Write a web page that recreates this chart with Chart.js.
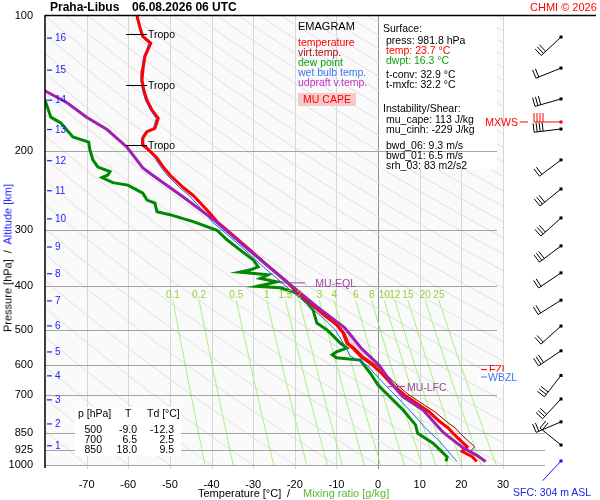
<!DOCTYPE html>
<html>
<head>
<meta charset="utf-8">
<script src="https://cdn.jsdelivr.net/npm/chart.js"></script>
<style>
body { margin: 0; background: #fff; }
#wrap { position: relative; width: 600px; height: 500px; font-family: "Liberation Sans", Arial, sans-serif; }
#wrap canvas { position: absolute; left: 0; top: 0; }
.t { position: absolute; white-space: pre; line-height: 1; font-size: 10.5px; color: #000; }
.r { text-align: right; }
</style>
</head>
<body>
<div id="wrap">
<canvas id="emagram" width="600" height="500"></canvas>

<div class="t" style="left:50px;top:1px;font-size:12px;font-weight:bold">Praha-Libus</div>
<div class="t" style="left:132px;top:1px;font-size:12px;font-weight:bold">06.08.2026 06 UTC</div>
<div class="t" style="left:530px;top:1.5px;font-size:11px;color:#ff0000">CHMI © 2026</div>

<div class="t" style="left:298px;top:20.5px;font-size:11px">EMAGRAM</div>
<div class="t" style="left:298px;top:36.75px;color:#ff0000">temperature</div>
<div class="t" style="left:298px;top:46.75px;color:#a01010">virt.temp.</div>
<div class="t" style="left:298px;top:56.75px;color:#10a010">dew point</div>
<div class="t" style="left:298px;top:66.75px;color:#3a78f0">wet bulb temp.</div>
<div class="t" style="left:298px;top:76.75px;color:#c030c0">udpraft v.temp.</div>
<div class="t" style="left:298px;top:93px;width:58px;height:13px;line-height:13px;text-align:center;background:#f7c8c8;color:#ff0000">MU CAPE</div>

<div class="t" style="left:383px;top:22.75px">Surface:</div>
<div class="t" style="left:386px;top:34.75px">press: 981.8 hPa</div>
<div class="t" style="left:386px;top:44.75px;color:#ff0000">temp: 23.7 °C</div>
<div class="t" style="left:386px;top:54.75px;color:#10a010">dwpt: 16.3 °C</div>
<div class="t" style="left:386px;top:68.75px">t-conv: 32.9 °C</div>
<div class="t" style="left:386px;top:79px">t-mxfc: 32.2 °C</div>
<div class="t" style="left:383px;top:103px">Instability/Shear:</div>
<div class="t" style="left:386px;top:114px">mu_cape: 113 J/kg</div>
<div class="t" style="left:386px;top:124px">mu_cinh: -229 J/kg</div>
<div class="t" style="left:386px;top:139.75px">bwd_06: 9.3 m/s</div>
<div class="t" style="left:386px;top:149.75px">bwd_01: 6.5 m/s</div>
<div class="t" style="left:386px;top:159.75px">srh_03: 83 m2/s2</div>

<div class="t" style="left:78px;top:407.75px">p [hPa]</div>
<div class="t" style="left:125px;top:407.75px">T</div>
<div class="t" style="left:147px;top:407.75px">Td [°C]</div>
<div class="t r" style="left:72px;top:423.75px;width:30px">500</div>
<div class="t r" style="left:107px;top:423.75px;width:30px">-9.0</div>
<div class="t r" style="left:140px;top:423.75px;width:34px">-12.3</div>
<div class="t r" style="left:72px;top:433.75px;width:30px">700</div>
<div class="t r" style="left:107px;top:433.75px;width:30px">6.5</div>
<div class="t r" style="left:140px;top:433.75px;width:34px">2.5</div>
<div class="t r" style="left:72px;top:443.75px;width:30px">850</div>
<div class="t r" style="left:107px;top:443.75px;width:30px">18.0</div>
<div class="t r" style="left:140px;top:443.75px;width:34px">9.5</div>

<div class="t" style="left:198px;top:487.5px;font-size:11px">Temperature [°C]</div>
<div class="t" style="left:287px;top:487.5px;font-size:11px">/</div>
<div class="t" style="left:303px;top:487.5px;font-size:11px;color:#5cb82e">Mixing ratio [g/kg]</div>
<div class="t" style="left:8px;top:258px;font-size:11px;transform:translate(-50%,-50%) rotate(-90deg)">Pressure [hPa]  /  <span style="color:#2020ff">Altitude [km]</span></div>
<div class="t" style="left:513px;top:486.75px;color:#2222dd">SFC: 304 m ASL</div>
</div>

<script>
//..axis ticks and reference lines
const pressureTicks = [100, 200, 300, 400, 500, 600, 700, 850, 925, 1000];
const isobars = [200, 300, 400, 500, 600, 700, 850, 925, 1000];
const longIsobars = [850, 925, 1000];
const mixRatios = [0.1, 0.2, 0.5, 1, 1.5, 2, 3, 4, 6, 8, 10, 12, 15, 20, 25];
const altKm = [1, 2, 3, 4, 5, 6, 7, 8, 9, 10, 11, 12, 13, 14, 15, 16];
const altP = [906, 810, 716, 633, 560, 490, 431, 375, 327, 283, 245, 210, 179, 154, 132, 112];

//..temperature
const tempP = [100, 106, 111, 115, 123, 132, 139, 146, 154, 162, 169, 178, 181, 187, 194, 197, 207, 217, 226, 241,
    251, 275, 287, 308, 332, 359, 391, 412, 436, 456, 488, 500, 508, 535, 550, 575, 600, 620, 657, 700,
    762, 800, 830, 850, 880, 911, 933, 958, 981.8];
const tempT = [-57.9, -57.2, -56.5, -54.6, -56.0, -56.5, -56.7, -56.3, -55.5, -54.3, -52.8, -53.6, -55.5, -56.5, -56.5, -55.5, -53.1, -51.6, -50.0, -46.8,
    -44.4, -40.4, -38.7, -34.8, -30.8, -26.7, -21.9, -19.5, -16.3, -13.9, -9.9, -9.0, -8.4, -7.5, -6.0, -4.0, -1.2, 0.5, 3.0, 6.5,
    12.3, 14.8, 17.0, 18.0, 19.7, 21.4, 20.2, 22.6, 23.7];

//..virtual temperature
const virtP = tempP;
const virtT = [-57.9, -57.2, -56.5, -54.6, -56.0, -56.5, -56.7, -56.3, -55.5, -54.3, -52.8, -53.6, -55.5, -56.5, -56.5, -55.5, -53.1, -51.6, -50.0, -46.8,
    -44.4, -40.4, -38.7, -34.8, -30.8, -26.7, -21.9, -19.5, -16.2, -13.8, -9.6, -8.6, -8.0, -7.0, -5.4, -3.3, -0.4, 1.4, 4.0, 7.6,
    13.7, 16.4, 18.7, 19.7, 21.4, 23.2, 22.1, 24.6, 25.8];

//..dew point
const dewP = [140, 154, 168, 173, 186, 191, 199, 209, 217, 222, 226, 229, 235, 238, 248, 257, 261, 273, 277, 287,
    300, 315, 336, 349, 362, 368, 372, 377, 384, 391, 400, 403, 414, 436, 452, 483, 500, 508, 535, 549,
    560, 568, 577, 584, 624, 664, 700, 754, 814, 850, 894, 960, 981.8];
const dewT = [-84, -80, -78.6, -76.2, -73.3, -69.5, -69.2, -68.5, -67.3, -64.4, -64.9, -66.3, -63.7, -60.1, -56.5, -55.5, -53.6, -53.1, -50.0, -44.4,
    -38.7, -36.3, -32.4, -30.0, -28.8, -30.8, -33.2, -26.4, -28.3, -24.3, -29.1, -23.5, -19.5, -17.0, -15.6, -14.7, -12.3, -11.5, -9.1, -7.5,
    -10.0, -11.0, -10.0, -4.3, -1.9, 0.0, 2.5, 6.0, 9.0, 9.5, 13.2, 16.6, 16.3];

//..wet bulb temperature
const wetP = [100, 106, 111, 115, 123, 132, 139, 146, 154, 162, 169, 178, 181, 187, 194, 197, 207, 217, 226, 241,
    251, 275, 287, 308, 332, 359, 391, 412, 429, 476, 500, 546, 572, 600, 624, 657, 705, 766, 830, 882, 960, 981.8];
const wetT = [-58.1, -57.4, -56.8, -55.0, -56.3, -56.8, -57.0, -56.6, -55.9, -54.7, -53.3, -54.0, -55.9, -56.8, -56.8, -55.9, -53.6, -52.2, -50.7, -47.7,
    -45.4, -41.5, -39.9, -36.0, -32.0, -28.0, -23.3, -20.6, -18.2, -12.6, -10.3, -7.8, -6.7, -2.6, -1.0, 1.3, 4.5, 8.2, 11.5, 14.6, 18.0, 19.0];

//..most unstable updraft (virtual temperature)
const parcelP = [135, 146, 156, 168, 179, 196, 218, 224, 253, 287, 332, 393, 444, 495, 550, 600, 669, 705, 754, 845, 870, 915, 953, 981.8];
const parcelT = [-86.0, -80.5, -74.7, -70.0, -65.1, -60.3, -56.5, -54.8, -46.8, -38.9, -31.0, -21.6, -14.7, -8.0, -4.0, 0.3, 3.8, 6.0, 10.8, 15.6, 17.3, 20.4, 23.8, 25.8];

//..levels marked in the plot
const tropoP = [109.7, 142.5, 193.9];
const eqlP = 393, eqlT = -21.6;
const lfcP = 669, lfcT = 3.8;
const fzlP = 613, wbzlP = 640;

//..winds
const windP = [111.4, 130.6, 153, 178.5, 209.2, 242.8, 281.7, 325.1, 373.3, 429.5, 490.4, 556.7, 631.8, 712.8, 801.4, 902.7];
const windDir = [227, 248, 254, 263, 233, 231, 228, 233, 236, 238, 228, 236, 218, 223, 247, 309];
const windKt = [30, 20, 30, 40, 20, 30, 30, 30, 20, 20, 20, 30, 30, 30, 20, 20];
const maxWindP = 172.2, maxWindDir = 270, maxWindKt = 40;
const sfcWindP = 979.7, sfcWindDir = 223;

const FONT = '"Liberation Sans", Arial, sans-serif';
const toPoints = (ps, ts) => ps.map((p, i) => ({ x: ts[i], y: p }));

function line(ctx, x1, y1, x2, y2, color, width) {
    ctx.strokeStyle = color;
    ctx.lineWidth = width;
    ctx.beginPath();
    ctx.moveTo(x1, y1);
    ctx.lineTo(x2, y2);
    ctx.stroke();
}

function mixingRatioTemp(w, p) {
    const e = w * p / (622 + w);
    const l = Math.log(e / 6.112);
    return 243.5 * l / (17.67 - l);
}

function drawBarb(ctx, x, y, dir, kt, color) {
    const a = dir * Math.PI / 180;
    const sx = Math.sin(a), sy = -Math.cos(a);
    const ex = x + sx * 27, ey = y + sy * 27;
    line(ctx, x, y, ex, ey, color, 1);
    const n = Math.round(kt / 10);
    for (let i = 0; i < n; i++) {
        const bx = ex - sx * 3 * i, by = ey - sy * 3 * i;
        line(ctx, bx, by, bx - sy * 9, by + sx * 9, color, 1);
    }
    ctx.fillStyle = color;
    ctx.fillRect(x - 1.5, y - 1.5, 3, 3);
}

//..grid, adiabats, mixing ratio lines
const emagramBackground = {
    id: 'emagramBackground',
    beforeDraw(chart) {
        const { ctx, chartArea: a, scales: { x, y } } = chart;
        ctx.save();
        ctx.fillStyle = '#fafafa';
        ctx.fillRect(a.left, a.top, a.right - a.left, a.bottom - a.top);

        for (let t = -70; t <= 30; t += 10) {
            const px = Math.round(x.getPixelForValue(t)) + 0.5;
            line(ctx, px, a.top, px, a.bottom + 4, t === 0 ? '#909090' : '#d6d6d6', 1);
        }

        ctx.save();
        ctx.beginPath();
        ctx.rect(a.left, a.top, a.right - a.left, a.bottom - a.top);
        ctx.clip();
        ctx.strokeStyle = '#e0e0e0';
        ctx.lineWidth = 1;
        for (let th = -80; th <= 320; th += 10) {
            ctx.beginPath();
            for (let p = 100; p <= 1000; p += 10) {
                const t = (th + 273.15) * Math.pow(p / 1000, 0.286) - 273.15;
                const px = x.getPixelForValue(t), py = y.getPixelForValue(p);
                p === 100 ? ctx.moveTo(px, py) : ctx.lineTo(px, py);
            }
            ctx.stroke();
        }
        ctx.strokeStyle = '#a6f27a';
        mixRatios.forEach(w => {
            ctx.beginPath();
            for (let p = 430; p <= 1000; p += 10) {
                const px = x.getPixelForValue(mixingRatioTemp(w, p)), py = y.getPixelForValue(p);
                p === 430 ? ctx.moveTo(px, py) : ctx.lineTo(px, py);
            }
            ctx.stroke();
        });
        ctx.restore();

        //..info box hides the reference lines
        ctx.fillStyle = '#fff';
        ctx.fillRect(379, 16, 118, 153);

        isobars.forEach(p => {
            const py = Math.round(y.getPixelForValue(p)) + 0.5;
            line(ctx, a.left, py, longIsobars.includes(p) ? 545 : 497, py, '#a4a4a4', 1);
        });

        //..value table box
        ctx.fillStyle = '#fff';
        ctx.fillRect(75, 407, 106, 49);
        ctx.restore();
    },
    beforeDatasetsDraw(chart) {
        //..MU CAPE area between updraft and environment
        const { ctx, scales: { x, y } } = chart;
        const up = parcelP.map((p, i) => [p, parcelT[i]]).filter(d => d[0] >= eqlP && d[0] <= lfcP);
        const env = tempP.map((p, i) => [p, tempT[i]]).filter(d => d[0] >= eqlP && d[0] <= lfcP).reverse();
        ctx.save();
        ctx.beginPath();
        up.concat(env).forEach((d, i) => {
            const px = x.getPixelForValue(d[1]), py = y.getPixelForValue(d[0]);
            i ? ctx.lineTo(px, py) : ctx.moveTo(px, py);
        });
        ctx.closePath();
        ctx.fillStyle = 'rgba(250,170,195,0.5)';
        ctx.fill();
        ctx.restore();
    }
};

//..axes lines, labels, wind barbs
const emagramOverlay = {
    id: 'emagramOverlay',
    afterDraw(chart) {
        const { ctx, chartArea: a, scales: { x, y } } = chart;
        ctx.save();
        line(ctx, a.left, 15, a.left, 468, '#000', 1.5);
        line(ctx, a.left, 15.5, 596, 15.5, '#000', 1.5);

        ctx.textBaseline = 'middle';
        ctx.font = '10px ' + FONT;
        ctx.textAlign = 'left';
        altKm.forEach((km, i) => {
            const py = y.getPixelForValue(altP[i]);
            line(ctx, 47, py, 52, py, '#2020ff', 1.2);
            ctx.fillStyle = '#2020ff';
            ctx.fillText(String(km), 55, py + 0.5);
        });

        ctx.font = '10.5px ' + FONT;
        tropoP.forEach(p => {
            const py = Math.round(y.getPixelForValue(p)) + 0.5;
            line(ctx, 126, py, 147, py, '#000', 1);
            ctx.fillStyle = '#000';
            ctx.fillText('Tropo', 148, py + 1);
        });

        ctx.font = '10px ' + FONT;
        ctx.textAlign = 'center';
        ctx.fillStyle = '#9acd32';
        mixRatios.forEach(w => {
            ctx.fillText(String(w), x.getPixelForValue(mixingRatioTemp(w, 430)), y.getPixelForValue(418));
        });

        ctx.textAlign = 'left';
        ctx.font = '10.5px ' + FONT;
        const eqlX = x.getPixelForValue(eqlT), eqlY = y.getPixelForValue(eqlP);
        line(ctx, eqlX - 8, eqlY, eqlX + 17, eqlY, '#a040a0', 1);
        ctx.fillStyle = '#a040a0';
        ctx.fillText('MU-EQL', eqlX + 27, eqlY + 1);
        const lfcX = x.getPixelForValue(lfcT), lfcY = y.getPixelForValue(lfcP);
        line(ctx, lfcX - 6, lfcY, lfcX + 11, lfcY, '#a040a0', 1);
        ctx.fillText('MU-LFC', lfcX + 13, lfcY + 1);

        //..freezing and wet bulb zero levels
        const fzlY = y.getPixelForValue(fzlP), wbzlY = y.getPixelForValue(wbzlP);
        line(ctx, 481, fzlY, 487, fzlY, '#ff0000', 1);
        ctx.fillStyle = '#ff0000';
        ctx.fillText('FZL', 489, fzlY + 1);
        ctx.fillStyle = '#fff';
        ctx.fillRect(478, fzlY + 2, 43, 13);
        line(ctx, 481, wbzlY - 1, 487, wbzlY - 1, '#3a78f0', 1);
        ctx.fillStyle = '#3a78f0';
        ctx.fillText('WBZL', 488, wbzlY);

        const stationX = 561;
        windP.forEach((p, i) => {
            drawBarb(ctx, stationX, y.getPixelForValue(p), windDir[i], windKt[i], '#000');
        });
        const mxY = y.getPixelForValue(maxWindP);
        drawBarb(ctx, stationX, mxY, maxWindDir, maxWindKt, '#ff0000');
        line(ctx, 520, mxY, 528, mxY, '#ff0000', 1);
        ctx.fillStyle = '#ff0000';
        ctx.textAlign = 'right';
        ctx.fillText('MXWS', 518, mxY + 1);
        drawBarb(ctx, stationX, y.getPixelForValue(sfcWindP), sfcWindDir, 0, '#1010ff');
        ctx.restore();
    }
};

const profiles = [
    { label: 'udpraft v.temp.', data: toPoints(parcelP, parcelT), borderColor: '#a020b0', borderWidth: 3, order: 0 },
    { label: 'temperature', data: toPoints(tempP, tempT), borderColor: '#ff0000', borderWidth: 3, order: 1 },
    { label: 'virt.temp.', data: toPoints(virtP, virtT), borderColor: '#990000', borderWidth: 1, order: 2 },
    { label: 'wet bulb temp.', data: toPoints(wetP, wetT), borderColor: '#1f6fef', borderWidth: 1, order: 3 },
    { label: 'dew point', data: toPoints(dewP, dewT), borderColor: '#008800', borderWidth: 3, order: 4 }
].map(d => Object.assign({ showLine: true, pointRadius: 0, tension: 0, fill: false }, d));

Chart.defaults.font.family = FONT;

new Chart(document.getElementById('emagram'), {
    type: 'scatter',
    data: { datasets: profiles },
    options: {
        responsive: false,
        animation: false,
        layout: { padding: { top: 16, right: 97, bottom: 0, left: 0 } },
        plugins: { legend: { display: false }, tooltip: { enabled: false } },
        scales: {
            x: {
                type: 'linear',
                min: -80,
                max: 30,
                grid: { display: false },
                border: { display: false },
                ticks: {
                    stepSize: 10, autoSkip: false, maxRotation: 0, padding: 5, color: '#000',
                    font: { size: 11 },
                    callback: v => v === -80 ? '' : String(v)
                },
                afterFit: s => { s.height = 35; }
            },
            y: {
                type: 'logarithmic',
                reverse: true,
                min: 100,
                max: 1000,
                grid: { display: false },
                border: { display: false },
                afterBuildTicks: s => { s.ticks = pressureTicks.map(v => ({ value: v })); },
                ticks: {
                    autoSkip: false, padding: 4, color: '#000',
                    font: { size: 11 },
                    callback: v => String(v)
                },
                afterFit: s => { s.width = 45; }
            }
        }
    },
    plugins: [emagramBackground, emagramOverlay]
});
</script>
</body>
</html>
